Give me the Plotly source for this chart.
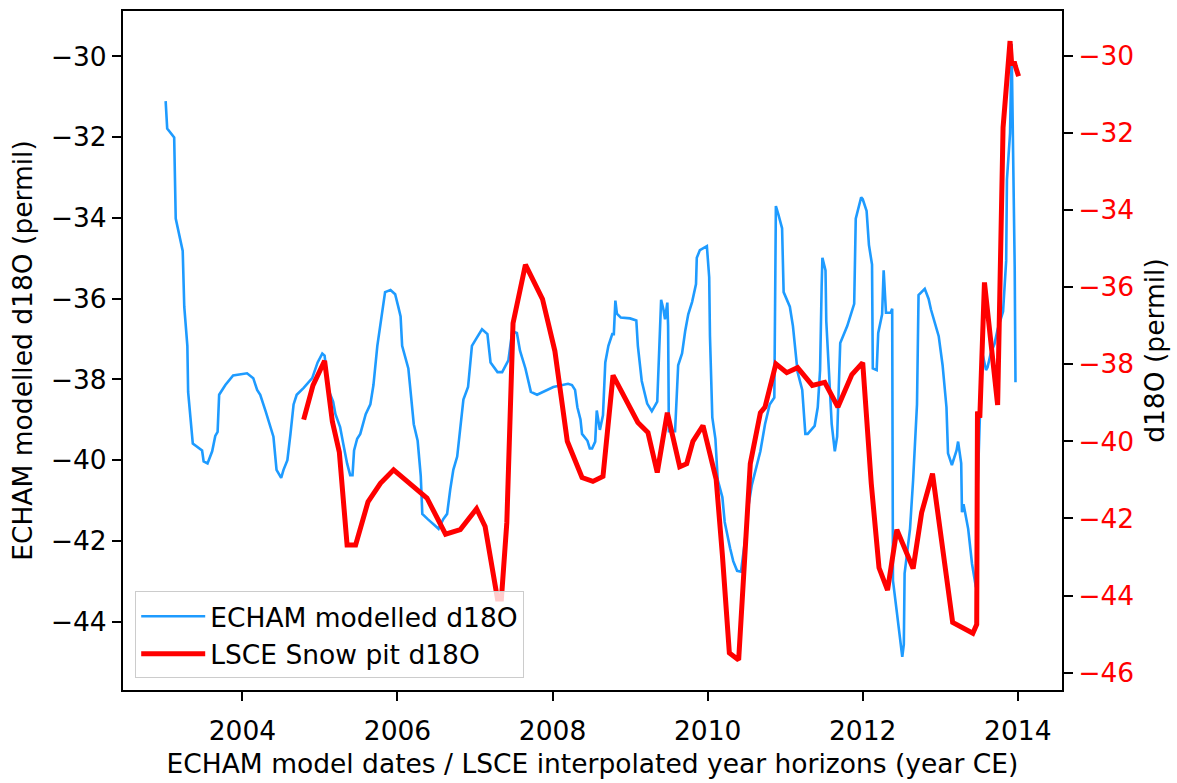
import plotly.graph_objects as go

# ECHAM modelled d18O (left axis): (year, permil)
echam_points = [
    (2003.01, -31.11), (2003.03, -31.79), (2003.12, -32.01), (2003.14, -34.02), (2003.23, -34.82),
    (2003.25, -36.20), (2003.29, -37.17), (2003.30, -38.31), (2003.36, -39.59), (2003.48, -39.76),
    (2003.50, -40.03), (2003.55, -40.08), (2003.61, -39.78), (2003.65, -39.40), (2003.68, -39.30),
    (2003.70, -38.38), (2003.78, -38.14), (2003.88, -37.90), (2004.06, -37.85), (2004.14, -37.97),
    (2004.19, -38.26), (2004.23, -38.38), (2004.30, -38.79), (2004.34, -39.06), (2004.40, -39.42),
    (2004.44, -40.24), (2004.50, -40.44), (2004.53, -40.24), (2004.58, -40.00), (2004.62, -39.35),
    (2004.66, -38.62), (2004.70, -38.38), (2004.79, -38.21), (2004.90, -37.97), (2004.97, -37.58),
    (2005.03, -37.36), (2005.06, -37.41), (2005.11, -38.26), (2005.17, -38.55), (2005.20, -38.86),
    (2005.26, -39.18), (2005.30, -39.59), (2005.35, -40.08), (2005.39, -40.37), (2005.42, -40.37),
    (2005.44, -39.76), (2005.48, -39.47), (2005.52, -39.35), (2005.59, -38.86), (2005.65, -38.62),
    (2005.69, -38.14), (2005.74, -37.17), (2005.78, -36.68), (2005.80, -36.44), (2005.84, -35.84),
    (2005.91, -35.79), (2005.97, -35.89), (2006.01, -36.20), (2006.04, -36.44), (2006.06, -37.17),
    (2006.14, -37.73), (2006.21, -39.11), (2006.26, -39.52), (2006.30, -40.39), (2006.32, -41.33),
    (2006.39, -41.46), (2006.49, -41.65), (2006.53, -41.70), (2006.59, -41.46), (2006.64, -41.33),
    (2006.68, -40.73), (2006.72, -40.24), (2006.77, -39.91), (2006.81, -39.11), (2006.85, -38.50),
    (2006.91, -38.19), (2006.96, -37.17), (2007.02, -36.98), (2007.09, -36.76), (2007.16, -36.88),
    (2007.20, -37.58), (2007.29, -37.82), (2007.35, -37.82), (2007.43, -37.53), (2007.48, -36.81),
    (2007.54, -36.85), (2007.58, -37.29), (2007.65, -37.73), (2007.72, -38.31), (2007.80, -38.38),
    (2008.01, -38.19), (2008.20, -38.11), (2008.25, -38.14), (2008.29, -38.26), (2008.32, -38.69),
    (2008.36, -38.99), (2008.38, -39.35), (2008.45, -39.52), (2008.48, -39.71), (2008.51, -39.71),
    (2008.55, -39.54), (2008.57, -38.77), (2008.61, -39.25), (2008.65, -38.89), (2008.68, -37.58),
    (2008.72, -37.17), (2008.77, -36.88), (2008.79, -36.88), (2008.81, -36.05), (2008.83, -36.37),
    (2008.88, -36.47), (2009.00, -36.49), (2009.08, -36.54), (2009.10, -37.17), (2009.15, -38.04),
    (2009.22, -38.60), (2009.28, -38.79), (2009.35, -38.55), (2009.36, -38.02), (2009.39, -36.93),
    (2009.40, -36.03), (2009.43, -36.27), (2009.45, -36.51), (2009.48, -36.10), (2009.49, -36.68),
    (2009.50, -39.28), (2009.58, -39.28), (2009.62, -37.65), (2009.67, -37.36), (2009.71, -36.81),
    (2009.75, -36.39), (2009.80, -36.08), (2009.85, -35.64), (2009.86, -34.99), (2009.90, -34.80),
    (2009.99, -34.70), (2010.02, -35.47), (2010.03, -36.93), (2010.06, -38.94), (2010.10, -39.47),
    (2010.13, -40.49), (2010.19, -40.92), (2010.22, -41.53), (2010.29, -42.18), (2010.33, -42.50),
    (2010.38, -42.74), (2010.43, -42.76), (2010.48, -42.01), (2010.52, -41.21), (2010.57, -40.61),
    (2010.64, -40.12), (2010.68, -39.78), (2010.74, -39.11), (2010.78, -38.82), (2010.80, -38.62),
    (2010.86, -38.45), (2010.88, -33.71), (2010.91, -33.90), (2010.96, -34.26), (2010.98, -35.84),
    (2011.06, -36.20), (2011.10, -36.68), (2011.13, -37.29), (2011.16, -37.82), (2011.22, -38.26),
    (2011.26, -39.35), (2011.29, -39.35), (2011.38, -39.15), (2011.42, -38.69), (2011.45, -37.77),
    (2011.47, -35.72), (2011.48, -34.99), (2011.52, -35.30), (2011.53, -36.56), (2011.56, -37.65),
    (2011.60, -39.11), (2011.64, -39.78), (2011.67, -39.42), (2011.71, -37.10), (2011.80, -36.68),
    (2011.89, -36.13), (2011.91, -34.02), (2011.98, -33.49), (2012.00, -33.54), (2012.05, -33.83),
    (2012.08, -34.67), (2012.12, -35.16), (2012.13, -37.73), (2012.18, -37.77), (2012.20, -36.85),
    (2012.25, -36.39), (2012.27, -35.30), (2012.30, -36.35), (2012.36, -36.35), (2012.38, -36.25),
    (2012.39, -42.98), (2012.44, -43.76), (2012.48, -44.43), (2012.51, -44.87), (2012.53, -44.56),
    (2012.54, -42.81), (2012.61, -41.70), (2012.65, -40.49), (2012.70, -38.62), (2012.72, -35.91),
    (2012.80, -35.76), (2012.85, -36.01), (2012.88, -36.27), (2012.93, -36.61), (2012.98, -36.93),
    (2013.03, -37.65), (2013.08, -38.69), (2013.10, -39.83), (2013.15, -40.12), (2013.21, -39.76),
    (2013.23, -39.54), (2013.27, -40.08), (2013.28, -41.29), (2013.30, -41.09), (2013.33, -41.36),
    (2013.36, -41.70), (2013.41, -42.57), (2013.46, -43.15), (2013.48, -40.80), (2013.52, -38.38),
    (2013.55, -37.41), (2013.59, -37.77), (2013.61, -37.70), (2013.65, -37.36), (2013.70, -37.12),
    (2013.74, -36.76), (2013.81, -36.32), (2013.85, -35.06), (2013.86, -33.05), (2013.90, -31.91),
    (2013.92, -29.70), (2013.95, -33.12), (2013.96, -35.23), (2013.97, -38.07),
]

# LSCE snow pit d18O (right axis): (interpolated year, permil)
lsce_points = [
    (2004.79, -39.44), (2004.91, -38.55), (2005.06, -37.91), (2005.16, -39.49), (2005.25, -40.28),
    (2005.35, -42.69), (2005.46, -42.69), (2005.62, -41.57), (2005.78, -41.09), (2005.95, -40.74),
    (2006.38, -41.47), (2006.62, -42.41), (2006.81, -42.29), (2007.02, -41.75), (2007.13, -42.21),
    (2007.29, -44.09), (2007.34, -44.09), (2007.41, -42.11), (2007.49, -36.94), (2007.65, -35.42),
    (2007.87, -36.31), (2008.03, -37.66), (2008.19, -40.00), (2008.38, -40.94), (2008.52, -41.04),
    (2008.65, -40.91), (2008.78, -38.29), (2009.10, -39.51), (2009.23, -39.77), (2009.35, -40.81),
    (2009.48, -39.26), (2009.64, -40.66), (2009.73, -40.58), (2009.81, -40.00), (2009.94, -39.59),
    (2010.11, -40.99), (2010.19, -42.95), (2010.28, -45.49), (2010.40, -45.67), (2010.48, -42.95),
    (2010.55, -40.58), (2010.68, -39.26), (2010.74, -39.11), (2010.88, -37.99), (2011.02, -38.22),
    (2011.16, -38.09), (2011.35, -38.55), (2011.51, -38.47), (2011.68, -39.11), (2011.86, -38.27),
    (2012.00, -37.96), (2012.11, -41.09), (2012.21, -43.28), (2012.32, -43.86), (2012.44, -42.29),
    (2012.65, -43.30), (2012.76, -41.85), (2012.90, -40.84), (2013.16, -44.70), (2013.42, -44.98),
    (2013.47, -44.75), (2013.48, -39.23), (2013.51, -39.39), (2013.57, -35.88), (2013.74, -39.06),
    (2013.81, -31.86), (2013.90, -29.62), (2013.92, -30.20), (2013.96, -30.20), (2013.97, -30.28),
    (2013.99, -30.46), (2014.01, -30.53),
]

echam_year = [p[0] for p in echam_points]
echam_d18o = [p[1] for p in echam_points]
lsce_year = [p[0] for p in lsce_points]
lsce_d18o = [p[1] for p in lsce_points]

x_ticks = [2004, 2006, 2008, 2010, 2012, 2014]
left_ticks = [-44, -42, -40, -38, -36, -34, -32, -30]
right_ticks = [-46, -44, -42, -40, -38, -36, -34, -32, -30]

FONT = "DejaVu Sans"
FS = 26.5

fig = go.Figure()
fig.add_trace(go.Scatter(x=echam_year, y=echam_d18o, mode="lines",
                         name="ECHAM modelled d18O",
                         line=dict(color="#1E9BFF", width=2.6), yaxis="y"))
fig.add_trace(go.Scatter(x=lsce_year, y=lsce_d18o, mode="lines",
                         name="LSCE Snow pit d18O",
                         line=dict(color="#FF0000", width=5), yaxis="y2"))

axis_common = dict(showgrid=False, zeroline=False, showline=True, linecolor="black",
                   linewidth=2, ticks="outside", ticklen=9, tickwidth=2, tickcolor="black")

fig.update_layout(
    width=1177, height=783,
    margin=dict(l=123, r=115, t=9, b=83),
    paper_bgcolor="white", plot_bgcolor="white",
    font=dict(family=FONT, size=FS, color="black"),
    showlegend=True,
    xaxis=dict(range=[2002.46, 2014.57], tickvals=x_ticks, mirror=True,
               ticklabelstandoff=7,
               title=dict(text="ECHAM model dates / LSCE interpolated year horizons (year CE)",
                          font=dict(size=FS), standoff=10),
               tickfont=dict(size=FS), **axis_common),
    yaxis=dict(range=[-45.69, -28.88], tickvals=left_ticks, mirror=True,
               title=dict(text="ECHAM modelled d18O (permil)", font=dict(size=FS), standoff=10),
               tickfont=dict(size=FS), **axis_common),
    yaxis2=dict(range=[-46.45, -28.84], tickvals=right_ticks, overlaying="y", side="right",
                title=dict(text="d18O (permil)", font=dict(size=FS), standoff=12),
                tickfont=dict(size=FS, color="#FF0000"), **axis_common),
    legend=dict(x=0.013, y=0.017, xanchor="left", yanchor="bottom",
                bgcolor="rgba(255,255,255,0.8)", bordercolor="#CCCCCC", borderwidth=1,
                font=dict(size=FS), tracegroupgap=0, itemwidth=64),
)

fig.write_html("out.html")
